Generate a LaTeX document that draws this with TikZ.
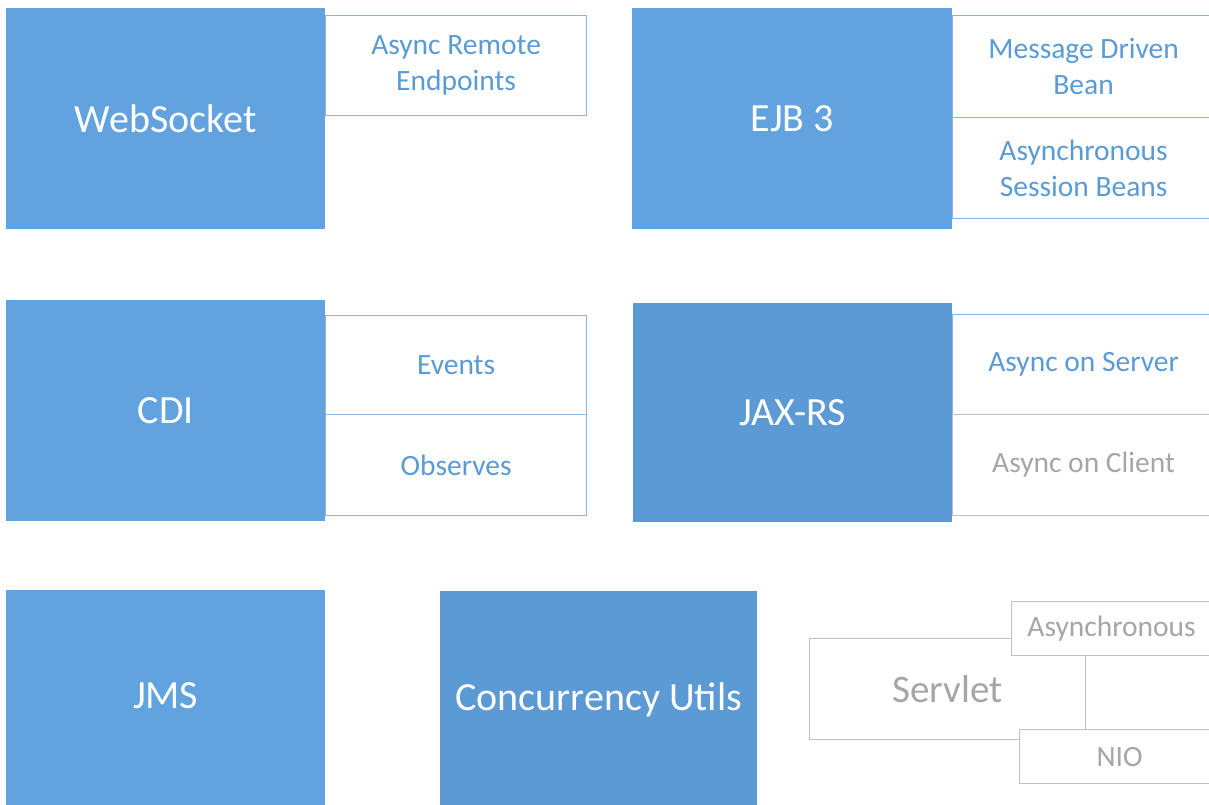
\documentclass[tikz,border=0pt]{standalone}
\usepackage{fontspec}
\setmainfont{Carlito}
\definecolor{blueA}{HTML}{62A3DF}
\definecolor{blueB}{HTML}{5B9AD5}
\definecolor{sidetext}{HTML}{5B9BD5}
\definecolor{sideline}{HTML}{8DB3E2}
\definecolor{graytext}{HTML}{A6A6A6}
\definecolor{grayline}{HTML}{BFBFBF}
\tikzset{
  mainbox/.style={anchor=north west, fill=blueA, draw=none, inner sep=0pt, text=white,
    font=\fontsize{40}{46}\selectfont, align=center},
  darkbox/.style={mainbox, fill=blueB},
  sidebox/.style={anchor=north west, fill=white, draw=sideline, line width=1.2pt, inner sep=0pt,
    text=sidetext, font=\fontsize{29.5}{36}\selectfont, align=center},
  graybox/.style={sidebox, draw=grayline, text=graytext},
}
\begin{document}
\begin{tikzpicture}[x=1pt,y=-1pt]
\clip (0,0) rectangle (1209,804);
\fill[white] (0,0) rectangle (1209,804);
% WebSocket
\node[mainbox, minimum width=319pt, minimum height=221pt] (ws) at (6,8) {WebSocket};
\node[sidebox, minimum width=261pt, minimum height=100pt] (are) at (325,15) {Async Remote\\Endpoints};
% EJB 3
\node[mainbox, minimum width=320pt, minimum height=221pt] (ejb) at (632,8) {EJB 3};
\node[sidebox, minimum width=290pt, minimum height=102pt] (mdb) at (952,15) {\hspace*{-28pt}Message Driven\\\hspace*{-28pt}Bean};
\node[sidebox, minimum width=290pt, minimum height=101pt] (asb) at (952,117) {\hspace*{-28pt}Asynchronous\\\hspace*{-28pt}Session Beans};
% CDI
\node[mainbox, minimum width=319pt, minimum height=221pt] (cdi) at (6,300) {CDI};
\node[sidebox, minimum width=261pt, minimum height=100pt] (ev) at (325,315) {Events};
\node[sidebox, minimum width=261pt, minimum height=101pt] (ob) at (325,414) {Observes};
% JAX-RS
\node[darkbox, minimum width=319pt, minimum height=219pt] (jax) at (633,303) {JAX-RS};
\node[sidebox, minimum width=290pt, minimum height=100pt] (aos) at (952,314) {\hspace*{-28pt}Async on Server};
\node[graybox, minimum width=290pt, minimum height=101pt] (aoc) at (952,414) {\hspace*{-28pt}Async on Client};
% JMS
\node[mainbox, minimum width=319pt, minimum height=230pt] (jms) at (6,590) {\raisebox{20pt}{JMS}};
% Concurrency Utils
\node[darkbox, minimum width=317pt, minimum height=230pt] (cu) at (440,591) {\raisebox{20pt}{Concurrency Utils}};
% Servlet
\node[graybox, minimum width=276pt, minimum height=101pt, font=\fontsize{39}{44}\selectfont] (srv) at (809,638) {Servlet};
\node[graybox, minimum width=220pt, minimum height=54pt, font=\fontsize{29.5}{34}\selectfont] (asy) at (1011,601) {\hspace*{-20pt}Asynchronous};
\node[graybox, minimum width=210pt, minimum height=54pt, font=\fontsize{29.5}{34}\selectfont] (nio) at (1019,729) {\hspace*{-10pt}NIO};
\end{tikzpicture}
\end{document}
